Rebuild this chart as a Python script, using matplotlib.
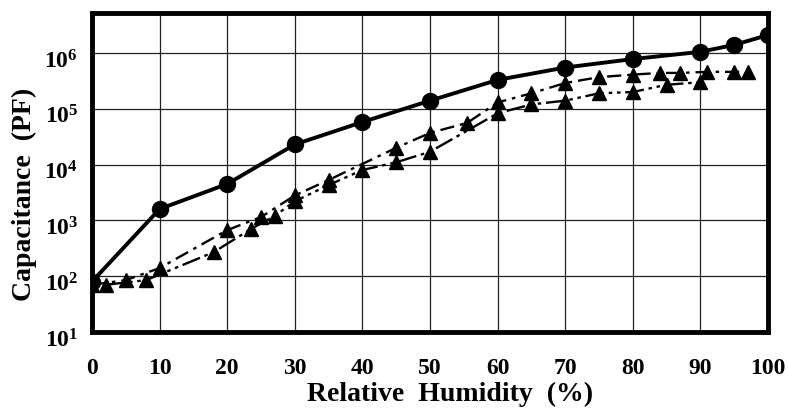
import numpy as np
import matplotlib.pyplot as plt
import matplotlib.transforms as mtransforms

plt.rcParams['font.family'] = 'Liberation Serif'
plt.rcParams['font.weight'] = 'bold'
plt.rcParams['mathtext.fontset'] = 'custom'
plt.rcParams['mathtext.rm'] = 'Liberation Serif:bold'
plt.rcParams['mathtext.it'] = 'Liberation Serif:bold'
plt.rcParams['mathtext.bf'] = 'Liberation Serif:bold'

# circles, solid line
rh_a = [0, 10, 20, 30, 40, 50, 60, 70, 80, 90, 95, 100]
cap_a = [80, 1.6e3, 4.5e3, 2.3e4, 5.8e4, 1.4e5, 3.3e5, 5.5e5, 7.8e5, 1.05e6, 1.4e6, 2.1e6]

# triangles, upper dash-dot line
rh_b = [0, 5, 10, 20, 25, 30, 35, 45, 50, 55.5, 60, 65, 70, 75, 80, 84, 87, 91, 95, 97]
cap_b = [70, 85, 140, 670, 1150, 2.8e3, 5.3e3, 2.0e4, 3.7e4, 5.6e4, 1.3e5, 1.9e5,
         2.9e5, 3.7e5, 4.1e5, 4.4e5, 4.4e5, 4.6e5, 4.6e5, 4.6e5]

# triangles, lower dash-dot-dot line
rh_c = [2, 8, 18, 23.5, 27, 30, 35, 40, 45, 50, 60, 65, 70, 75, 80, 85, 90]
cap_c = [70, 85, 270, 700, 1200, 2.2e3, 4.3e3, 8.0e3, 1.1e4, 1.7e4, 8.3e4, 1.2e5,
         1.4e5, 1.9e5, 2.0e5, 2.7e5, 3.0e5]

x_ticks = [0, 10, 20, 30, 40, 50, 60, 70, 80, 90, 100]
y_exps = [1, 2, 3, 4, 5, 6]

fig = plt.figure(figsize=(7.88, 4.09), dpi=100)
ax = fig.add_axes([0.1168, 0.1883, 0.8578, 0.7797])

ax.plot(rh_a, cap_a, color='black', lw=2.8, marker='o', ms=11.5, zorder=4)
ax.plot(rh_b, cap_b, color='black', lw=1.7, ls=(0, (6, 2.5, 1.5, 2.5)),
        marker='^', ms=9.5, zorder=3)
ax.plot(rh_c, cap_c, color='black', lw=1.7, ls=(0, (8, 2, 1.5, 2, 1.5, 2)),
        marker='^', ms=9.5, zorder=3)

ax.set_yscale('log')
ax.set_xlim(0, 100)
ax.set_ylim(10, 5.2e6)

ax.set_xticks(x_ticks)
ax.set_xticklabels([str(t) for t in x_ticks])
ax.set_yticks([10.0 ** e for e in y_exps])
ax.set_yticklabels([r'$10^{%d}$' % e for e in y_exps])
ax.yaxis.set_minor_locator(plt.NullLocator())
ax.tick_params(axis='both', length=0, labelsize=17)
ax.tick_params(axis='x', pad=19)
ax.tick_params(axis='y', pad=10)

# y labels sit a little below their gridlines
shift = mtransforms.ScaledTranslation(0, -6 / 100, fig.dpi_scale_trans)
for lbl in ax.get_yticklabels():
    lbl.set_transform(lbl.get_transform() + shift)

ax.grid(True, color='#222222', lw=0.9)
ax.set_axisbelow(True)
for s in ax.spines.values():
    s.set_linewidth(3.5)

ax.set_xlabel('Relative  Humidity  (%)', fontsize=20, fontweight='bold')
ax.xaxis.set_label_coords(0.53, -0.155)
ax.set_ylabel('Capacitance  (PF)', fontsize=20, fontweight='bold')
ax.yaxis.set_label_coords(-0.082, 0.43)

fig.savefig('out.png', dpi=100)
